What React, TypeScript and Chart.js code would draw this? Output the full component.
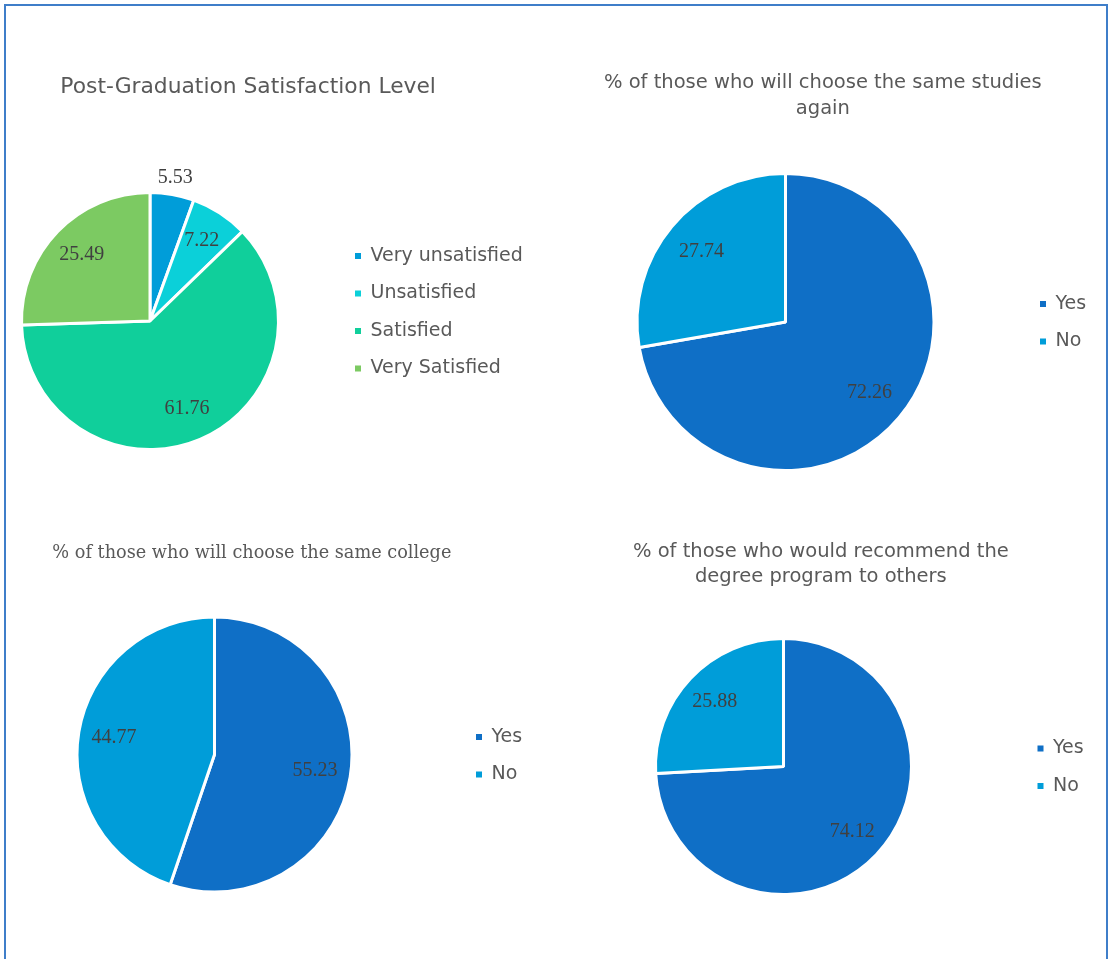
import React, { useEffect, useRef } from 'react';
import { Chart, registerables } from 'chart.js';

Chart.register(...registerables);

// ---------------- data ----------------
const satisfactionLabels = ['Very unsatisfied', 'Unsatisfied', 'Satisfied', 'Very Satisfied'];
const satisfactionValues = [5.53, 7.22, 61.76, 25.49];
const satisfactionColors = ['#009DD9', '#0BD0D9', '#10CF9B', '#7CCA62'];

const yesNoLabels = ['Yes', 'No'];
const yesNoColors = ['#0F6FC6', '#009DD9'];
const sameStudiesValues = [72.26, 27.74];
const sameCollegeValues = [55.23, 44.77];
const recommendValues = [74.12, 25.88];

const titleSatisfaction = 'Post-Graduation Satisfaction Level';
const titleSameStudies = ['% of those who will choose the same studies', 'again'];
const titleSameCollege = '% of those who will choose the same college';
const titleRecommend = ['% of those who would recommend the', 'degree program to others'];

// ---------------- styling / layout ----------------
const SANS = "'DejaVu Sans', sans-serif";
const SERIF_TITLE = "'DejaVu Serif', serif";
const LABEL_FONT = "20px 'Liberation Serif', serif";
const TEXT_COLOR = '#595959';
const LABEL_COLOR = '#404040';
const LEGEND_SIZE = 19;
const LEGEND_PAD = 18.5;
const LEGEND_BOX = 6;

type Panel = {
  id: string;
  title: string | string[];
  titleFont: { family: string; size: number; lineHeight: number };
  labels: string[];
  values: number[];
  colors: string[];
  box: { left: number; top: number; width: number; height: number };
  titleY: number;
  pieCx: number;
  pieTop: number;
  pieBottom: number;
  legendBoxX: number;
  legendFirstY: number;
};

const panels: Panel[] = [
  {
    id: 'satisfaction',
    title: titleSatisfaction,
    titleFont: { family: SANS, size: 21.8, lineHeight: 26 },
    labels: satisfactionLabels,
    values: satisfactionValues,
    colors: satisfactionColors,
    box: { left: -60, top: 20, width: 615, height: 480 },
    titleY: 87.5,
    pieCx: 150,
    pieTop: 194,
    pieBottom: 448,
    legendBoxX: 355,
    legendFirstY: 256,
  },
  {
    id: 'studies',
    title: titleSameStudies,
    titleFont: { family: SANS, size: 19.5, lineHeight: 26 },
    labels: yesNoLabels,
    values: sameStudiesValues,
    colors: yesNoColors,
    box: { left: 530, top: 20, width: 575, height: 480 },
    titleY: 83.3,
    pieCx: 785.5,
    pieTop: 175,
    pieBottom: 469,
    legendBoxX: 1040,
    legendFirstY: 304,
  },
  {
    id: 'college',
    title: titleSameCollege,
    titleFont: { family: SERIF_TITLE, size: 17.7, lineHeight: 24 },
    labels: yesNoLabels,
    values: sameCollegeValues,
    colors: yesNoColors,
    box: { left: -60, top: 510, width: 615, height: 440 },
    titleY: 553.3,
    pieCx: 214.5,
    pieTop: 618.5,
    pieBottom: 890.5,
    legendBoxX: 476,
    legendFirstY: 737,
  },
  {
    id: 'recommend',
    title: titleRecommend,
    titleFont: { family: SANS, size: 19.5, lineHeight: 25 },
    labels: yesNoLabels,
    values: recommendValues,
    colors: yesNoColors,
    box: { left: 530, top: 510, width: 575, height: 440 },
    titleY: 552.3,
    pieCx: 783.5,
    pieTop: 640,
    pieBottom: 893,
    legendBoxX: 1037.5,
    legendFirstY: 748.5,
  },
];

const sliceLabelPlugin = {
  id: 'sliceLabels',
  afterDatasetsDraw(chart: any, _args: any, opts: any) {
    const { ctx } = chart;
    const meta = chart.getDatasetMeta(0);
    const data = chart.data.datasets[0].data as number[];
    ctx.save();
    ctx.font = opts.font;
    ctx.fillStyle = opts.color;
    ctx.textAlign = 'center';
    ctx.textBaseline = 'middle';
    meta.data.forEach((arc: any, i: number) => {
      const p = arc.getProps(['x', 'y', 'startAngle', 'endAngle', 'outerRadius'], true);
      const mid = (p.startAngle + p.endAngle) / 2;
      const v = data[i];
      const dist = v < opts.outsideBelow ? p.outerRadius + opts.outsideGap : p.outerRadius * opts.ratio;
      ctx.fillText(v.toFixed(2), p.x + Math.cos(mid) * dist, p.y + Math.sin(mid) * dist);
    });
    ctx.restore();
  },
};

function PiePanel({ spec }: { spec: Panel }) {
  const ref = useRef<HTMLCanvasElement>(null);

  useEffect(() => {
    const canvas = ref.current;
    if (!canvas) return;
    const ctx = canvas.getContext('2d')!;
    ctx.save();
    ctx.font = `normal ${LEGEND_SIZE}px ${SANS}`;
    const maxText = Math.max(...spec.labels.map((l) => ctx.measureText(l).width));
    ctx.restore();

    const { left: L, top: T, width: W, height: H } = spec.box;
    const lines = Array.isArray(spec.title) ? spec.title.length : 1;
    const lh = spec.titleFont.lineHeight;
    const tpt = spec.titleY - T - lh / 2;
    const tpb = spec.pieTop - T - tpt - lines * lh;
    const pb = T + H - spec.pieBottom;
    const legendW = LEGEND_PAD + LEGEND_BOX + LEGEND_SIZE / 2 + maxText + 10;
    const legendLeft = spec.legendBoxX - LEGEND_PAD;
    const areaLeft = 2 * spec.pieCx - legendLeft;
    const pl = areaLeft - L;
    const pr = L + W - (legendLeft + legendW);
    const radius = (spec.pieBottom - spec.pieTop) / 2 + 1.5;
    // spacer above the legend items so that the first entry sits at legendFirstY
    const legendSpacer = Math.max(spec.legendFirstY - (spec.pieTop + LEGEND_PAD + LEGEND_SIZE / 2), 0);

    const baseGen = (Chart as any).overrides.doughnut.plugins.legend.labels.generateLabels;

    const chart = new Chart(canvas, {
      type: 'pie',
      data: {
        labels: spec.labels,
        datasets: [
          {
            data: spec.values,
            backgroundColor: spec.colors,
            borderColor: '#ffffff',
            borderWidth: 3,
            radius: radius,
            clip: false,
          } as any,
        ],
      },
      options: {
        animation: false,
        responsive: false,
        events: [],
        layout: { padding: { left: pl, right: pr, top: 0, bottom: pb } },
        plugins: {
          title: {
            display: true,
            text: spec.title,
            color: TEXT_COLOR,
            font: { family: spec.titleFont.family, size: spec.titleFont.size, weight: 'normal', lineHeight: `${lh}px` },
            padding: { top: tpt, bottom: tpb },
          },
          legend: {
            display: true,
            position: 'right',
            align: 'start',
            fullSize: false,
            title: {
              display: true,
              text: '',
              font: { size: 10, lineHeight: '0px' },
              padding: { top: legendSpacer, bottom: 0 },
            },
            labels: {
              color: TEXT_COLOR,
              font: { family: SANS, size: LEGEND_SIZE },
              boxWidth: LEGEND_BOX,
              boxHeight: LEGEND_BOX,
              padding: LEGEND_PAD,
              generateLabels: (c: any) =>
                baseGen(c).map((it: any) => ({ ...it, lineWidth: 0, strokeStyle: 'rgba(0,0,0,0)' })),
            },
          },
          tooltip: { enabled: false },
          sliceLabels: { font: LABEL_FONT, color: LABEL_COLOR, ratio: 0.74, outsideBelow: 6, outsideGap: 17 },
        } as any,
      },
      plugins: [sliceLabelPlugin],
    });
    return () => chart.destroy();
  }, [spec]);

  return (
    <canvas
      ref={ref}
      width={spec.box.width}
      height={spec.box.height}
      style={{
        position: 'absolute',
        left: spec.box.left,
        top: spec.box.top,
        width: spec.box.width,
        height: spec.box.height,
      }}
    />
  );
}

export default function App() {
  return (
    <div
      style={{
        position: 'absolute',
        left: 0,
        top: 0,
        width: 1109,
        height: 959,
        overflow: 'hidden',
        background: '#ffffff',
      }}
    >
      {panels.map((p) => (
        <PiePanel key={p.id} spec={p} />
      ))}
      <div
        style={{
          position: 'absolute',
          left: 4,
          top: 4,
          width: 1104,
          height: 1000,
          boxSizing: 'border-box',
          border: '2px solid #3F7EC9',
          pointerEvents: 'none',
        }}
      />
    </div>
  );
}
